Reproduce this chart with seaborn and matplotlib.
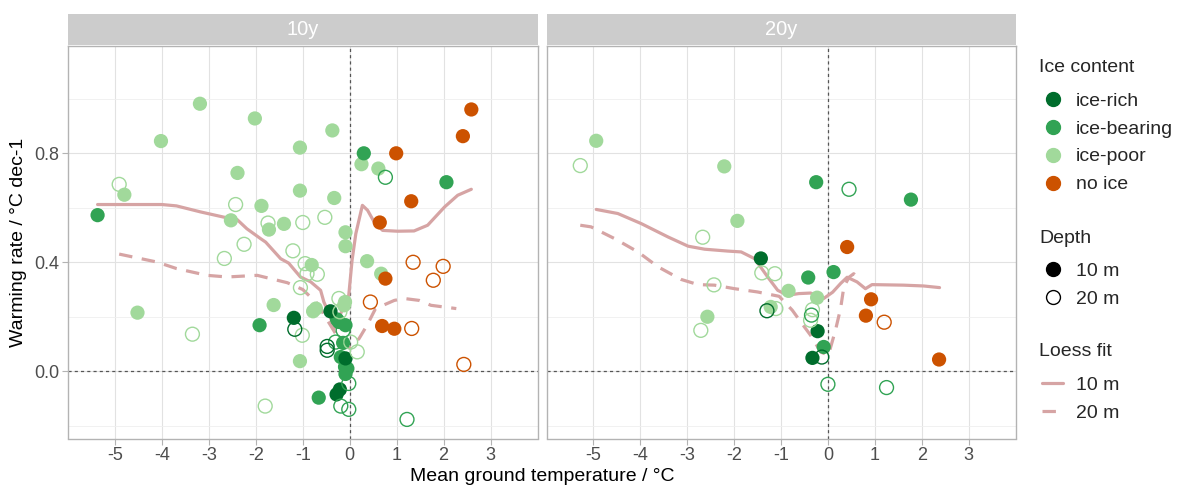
import matplotlib
matplotlib.use("Agg")
import matplotlib.pyplot as plt
import pandas as pd
import seaborn as sns
from matplotlib.lines import Line2D

sns.set_style("white")
plt.rcParams['font.family'] = ['Liberation Sans', 'DejaVu Sans']
plt.rcParams['axes.unicode_minus'] = False

# ---------------- data ----------------
ice_levels = ["ice-rich", "ice-bearing", "ice-poor", "no ice"]
ice_colors = ["#006d2c", "#31a354", "#a1d99b", "#cc5200"]
panels = ["10y", "20y"]
depth_labels = ["10 m", "20 m"]
x_ticks = [-5, -4, -3, -2, -1, 0, 1, 2, 3]
x_tick_labels = ["-5", "-4", "-3", "-2", "-1", "0", "1", "2", "3"]
y_ticks = [0.0, 0.4, 0.8]
y_tick_labels = ["0.0", "0.4", "0.8"]
y_minor = [-0.2, 0.2, 0.6, 1.0]

# 10y, 10 m (filled)
p10_d10_temp = [-4.80, -4.02, -3.19, -2.02, -2.39, -2.53, -1.88, -1.72, -1.40, -1.06, -1.06, -0.37, -0.33,
                -0.09, -0.09, 0.25, 0.61, 0.67, 0.37, -4.52, -1.62, -1.06, -0.81, -0.78, -0.72, -0.10, -0.12,
                -5.37, 0.30, 2.06, -1.92, -0.27, -0.23, -0.09, -0.14, -0.19, -0.10, -0.09, -0.05, -0.66,
                -1.19, -0.41, -0.09, -0.21, -0.28,
                0.99, 2.59, 2.41, 1.31, 0.64, 0.76, 0.69, 0.95]
p10_d10_rate = [0.648, 0.845, 0.982, 0.928, 0.728, 0.554, 0.607, 0.520, 0.541, 0.821, 0.663, 0.884, 0.636,
                0.510, 0.459, 0.760, 0.744, 0.358, 0.404, 0.215, 0.243, 0.037, 0.390, 0.220, 0.230, 0.254, 0.242,
                0.573, 0.800, 0.694, 0.169, 0.190, 0.181, 0.169, 0.104, 0.052, 0.016, -0.010, 0.010, -0.097,
                0.196, 0.220, 0.047, -0.067, -0.085,
                0.800, 0.961, 0.863, 0.624, 0.546, 0.340, 0.166, 0.156]
p10_d10_ice = (["ice-poor"] * 27 + ["ice-bearing"] * 13 + ["ice-rich"] * 5 + ["no ice"] * 8)

# 10y, 20 m (open)
p10_d20_temp = [-4.91, -2.43, -1.74, -1.00, -0.53, -2.25, -1.21, -2.67, -3.35, -1.80, -1.01, -0.95, -0.91,
                -0.69, -1.05, -0.23, -0.21, 0.02, 0.16,
                0.76, 1.22, -0.14, -0.30, -0.02, -0.19, -0.02,
                -1.17, -0.48, -0.48,
                1.35, 1.99, 1.78, 0.44, 1.32, 2.43]
p10_d20_rate = [0.686, 0.612, 0.544, 0.546, 0.565, 0.466, 0.442, 0.414, 0.136, -0.128, 0.132, 0.395, 0.358,
                0.356, 0.307, 0.267, 0.218, 0.107, 0.071,
                0.712, -0.177, 0.150, 0.107, -0.045, -0.128, -0.140,
                0.154, 0.091, 0.077,
                0.400, 0.385, 0.334, 0.254, 0.157, 0.025]
p10_d20_ice = (["ice-poor"] * 19 + ["ice-bearing"] * 7 + ["ice-rich"] * 3 + ["no ice"] * 6)

# 20y, 10 m (filled)
p20_d10_temp = [-4.94, -2.21, -1.93, -2.57, -1.22, -0.84, -0.23,
                -0.42, 0.12, -0.09, -0.25, 1.77,
                -1.43, -0.22, -0.33,
                0.41, 0.92, 0.81, 2.37]
p20_d10_rate = [0.846, 0.752, 0.552, 0.200, 0.236, 0.295, 0.270,
                0.344, 0.364, 0.089, 0.694, 0.630,
                0.414, 0.147, 0.049,
                0.456, 0.264, 0.204, 0.043]
p20_d10_ice = (["ice-poor"] * 7 + ["ice-bearing"] * 5 + ["ice-rich"] * 3 + ["no ice"] * 4)

# 20y, 20 m (open)
p20_d20_temp = [-5.28, -2.67, -1.41, -1.13, -2.43, -2.71, -1.11, -0.33, -0.37,
                0.45, 0.00, 1.25, -0.35,
                -1.30, -0.13,
                1.20]
p20_d20_rate = [0.755, 0.492, 0.361, 0.358, 0.317, 0.150, 0.230, 0.226, 0.187,
                0.668, -0.048, -0.060, 0.206,
                0.222, 0.052,
                0.180]
p20_d20_ice = (["ice-poor"] * 9 + ["ice-bearing"] * 4 + ["ice-rich"] * 2 + ["no ice"] * 1)

# loess fits
fit10y_10m_x = [-5.37, -4.0, -3.69, -3.18, -2.69, -2.40, -2.19, -1.90, -1.79, -1.47, -1.30, -1.05, -0.83,
                -0.62, -0.55, -0.44, -0.33, -0.02, 0.05, 0.13, 0.27, 0.38, 0.52, 0.70, 1.02, 1.37, 1.66,
                2.02, 2.30, 2.59]
fit10y_10m_y = [0.612, 0.612, 0.607, 0.585, 0.566, 0.557, 0.523, 0.487, 0.474, 0.413, 0.397, 0.346, 0.328,
                0.297, 0.254, 0.212, 0.157, 0.280, 0.407, 0.505, 0.609, 0.591, 0.548, 0.517, 0.514, 0.515,
                0.536, 0.603, 0.646, 0.668]
fit10y_20m_x = [-4.91, -4.11, -3.69, -3.04, -2.61, -1.97, -1.33, -1.00, -0.70, -0.45, -0.20, 0.00, 0.20,
                0.37, 0.55, 0.95, 1.16, 1.48, 1.73, 2.27]
fit10y_20m_y = [0.430, 0.401, 0.377, 0.352, 0.346, 0.352, 0.325, 0.300, 0.250, 0.180, 0.110, 0.085, 0.120,
                0.169, 0.230, 0.260, 0.267, 0.260, 0.242, 0.230]
fit20y_10m_x = [-4.94, -4.48, -3.98, -3.41, -2.98, -2.63, -2.13, -1.85, -1.56, -1.28, -1.07, -0.86, -0.62,
                -0.37, -0.09, 0.10, 0.27, 0.41, 0.62, 0.80, 0.94, 1.61, 2.04, 2.38]
fit20y_10m_y = [0.594, 0.579, 0.542, 0.493, 0.459, 0.448, 0.441, 0.438, 0.413, 0.345, 0.297, 0.279, 0.285,
                0.287, 0.267, 0.290, 0.322, 0.345, 0.328, 0.303, 0.318, 0.316, 0.313, 0.307]
fit20y_20m_x = [-5.28, -5.05, -4.55, -4.05, -3.62, -3.13, -2.77, -2.42, -1.99, -1.50, -1.04, -0.76, -0.58,
                -0.37, -0.15, 0.01, 0.16, 0.27, 0.34, 0.45, 0.55, 0.69]
fit20y_20m_y = [0.536, 0.530, 0.487, 0.438, 0.383, 0.337, 0.318, 0.316, 0.303, 0.291, 0.275, 0.224, 0.181,
                0.132, 0.070, 0.059, 0.150, 0.230, 0.310, 0.345, 0.358, 0.334]

# ---------------- assemble ----------------
def frame(temp, rate, ice, panel, depth):
    return pd.DataFrame({"temp": temp, "rate": rate, "ice": ice, "panel": panel, "depth": depth})

points = pd.concat([
    frame(p10_d10_temp, p10_d10_rate, p10_d10_ice, "10y", "10 m"),
    frame(p10_d20_temp, p10_d20_rate, p10_d20_ice, "10y", "20 m"),
    frame(p20_d10_temp, p20_d10_rate, p20_d10_ice, "20y", "10 m"),
    frame(p20_d20_temp, p20_d20_rate, p20_d20_ice, "20y", "20 m"),
], ignore_index=True)

fits = pd.concat([
    pd.DataFrame({"temp": fit10y_10m_x, "rate": fit10y_10m_y, "panel": "10y", "depth": "10 m"}),
    pd.DataFrame({"temp": fit10y_20m_x, "rate": fit10y_20m_y, "panel": "10y", "depth": "20 m"}),
    pd.DataFrame({"temp": fit20y_10m_x, "rate": fit20y_10m_y, "panel": "20y", "depth": "10 m"}),
    pd.DataFrame({"temp": fit20y_20m_x, "rate": fit20y_20m_y, "panel": "20y", "depth": "20 m"}),
], ignore_index=True)

palette = dict(zip(ice_levels, ice_colors))
fit_color = "#d6a4a4"
dash_pat = (4.2, 3.0)
fit_dashes = {"10 m": "", "20 m": dash_pat}

# ---------------- figure ----------------
W, H = 1179, 486
fig = plt.figure(figsize=(W / 100, H / 100), dpi=100)
ax_boxes = [(68, 46, 538, 438.5), (546.5, 46, 1016, 438.5)]
axes = []
for (l, t, r, b) in ax_boxes:
    axes.append(fig.add_axes([l / W, 1 - b / H, (r - l) / W, (b - t) / H]))

draw_order = ["ice-poor", "ice-bearing", "ice-rich", "no ice"]
for i, (ax, panel) in enumerate(zip(axes, panels)):
    ax.set_facecolor("white")
    ax.set_xlim(-6.0, 4.01)
    ax.set_ylim(-0.247, 1.194)
    ax.set_xticks(x_ticks)
    ax.set_xticklabels(x_tick_labels)
    ax.set_yticks(y_ticks)
    ax.set_yticks(y_minor, minor=True)
    ax.grid(which="major", color="#e2e2e2", lw=0.8)
    ax.grid(which="minor", axis="y", color="#efefef", lw=0.6)
    ax.set_axisbelow(True)
    ax.axvline(0, color="#555555", lw=0.9, ls=(0, (2.5, 2.5)), zorder=1.5)
    ax.axhline(0, color="#555555", lw=0.9, ls=(0, (2.5, 2.5)), zorder=1.5)

    f = fits[fits.panel == panel]
    sns.lineplot(data=f, x="temp", y="rate", style="depth", dashes=fit_dashes, sort=False,
                 estimator=None, color=fit_color, lw=2.3, ax=ax, legend=False, zorder=2)

    pp = points[points.panel == panel]
    filled = pp[pp.depth == "10 m"].copy()
    filled["o"] = filled.ice.map({k: j for j, k in enumerate(draw_order)})
    filled = filled.sort_values("o", kind="stable")
    sns.scatterplot(data=filled, x="temp", y="rate", hue="ice", palette=palette, s=105,
                    edgecolor="none", linewidth=0, ax=ax, legend=False, zorder=3)
    hollow = pp[pp.depth == "20 m"]
    sns.scatterplot(data=hollow, x="temp", y="rate", hue="ice", palette=palette, s=100,
                    marker="o", linewidth=1.0, ax=ax, legend=False, zorder=3)
    coll = ax.collections[-1]
    fc = coll.get_facecolor()
    coll.set_facecolor("none")
    coll.set_edgecolor(fc)
    coll.set_linewidth(1.0)

    for sp in ax.spines.values():
        sp.set_color("#b3b3b3")
        sp.set_linewidth(1.0)
    ax.tick_params(which="major", length=4, width=0.8, color="#b3b3b3", labelcolor="#4d4d4d",
                   labelsize=13, pad=2, left=(i == 0), bottom=True, labelleft=(i == 0))
    ax.tick_params(which="minor", length=0)
    if i == 0:
        ax.set_yticklabels(y_tick_labels)
    ax.set_xlabel("")
    ax.set_ylabel("")

    # facet strip
    l, t, r, b = ax_boxes[i]
    sax = fig.add_axes([l / W, 1 - 45 / H, (r - l) / W, 31 / H])
    sax.set_facecolor("#cccccc")
    sax.set_xticks([]); sax.set_yticks([])
    for sp in sax.spines.values():
        sp.set_visible(False)
    sax.text(0.5, 0.5, panel, color="white", fontsize=14.5, ha="center", va="center",
             transform=sax.transAxes)

fig.text(542 / W, 1 - 476 / H, "Mean ground temperature / °C", ha="center", va="center",
         fontsize=14, color="black")
fig.text(19 / W, 1 - 242 / H, "Warming rate / °C dec-1", ha="center", va="center",
         rotation=90, fontsize=14, color="black")

# ---------------- legends ----------------
common = dict(frameon=False, fontsize=14, loc="upper left",
              borderpad=0, borderaxespad=0, handlelength=1.1, handletextpad=0.65, labelspacing=0.53)
legend_x = 1042 / W
ice_handles = [Line2D([], [], marker="o", ls="", color=c, markersize=10) for c in ice_colors]
fig.text(1039 / W, 1 - 67 / H, "Ice content", fontsize=14, ha="left", va="center")
fig.legend(ice_handles, ice_levels, bbox_to_anchor=(legend_x, 1 - 92 / H), **common)

depth_handles = [Line2D([], [], marker="o", ls="", color="black", markersize=10),
                 Line2D([], [], marker="o", ls="", color="black", markersize=10,
                        markerfacecolor="none", markeredgewidth=1.0)]
fig.text(1039 / W, 1 - 238 / H, "Depth", fontsize=14, ha="left", va="center")
fig.legend(depth_handles, depth_labels, bbox_to_anchor=(legend_x, 1 - 262 / H), **common)

fit_handles = [Line2D([], [], color=fit_color, lw=2.3),
               Line2D([], [], color=fit_color, lw=2.3, ls=(0, dash_pat))]
fig.text(1039 / W, 1 - 351 / H, "Loess fit", fontsize=14, ha="left", va="center")
fig.legend(fit_handles, depth_labels, bbox_to_anchor=(legend_x, 1 - 376 / H), **common)

fig.savefig("out.png", dpi=100)
